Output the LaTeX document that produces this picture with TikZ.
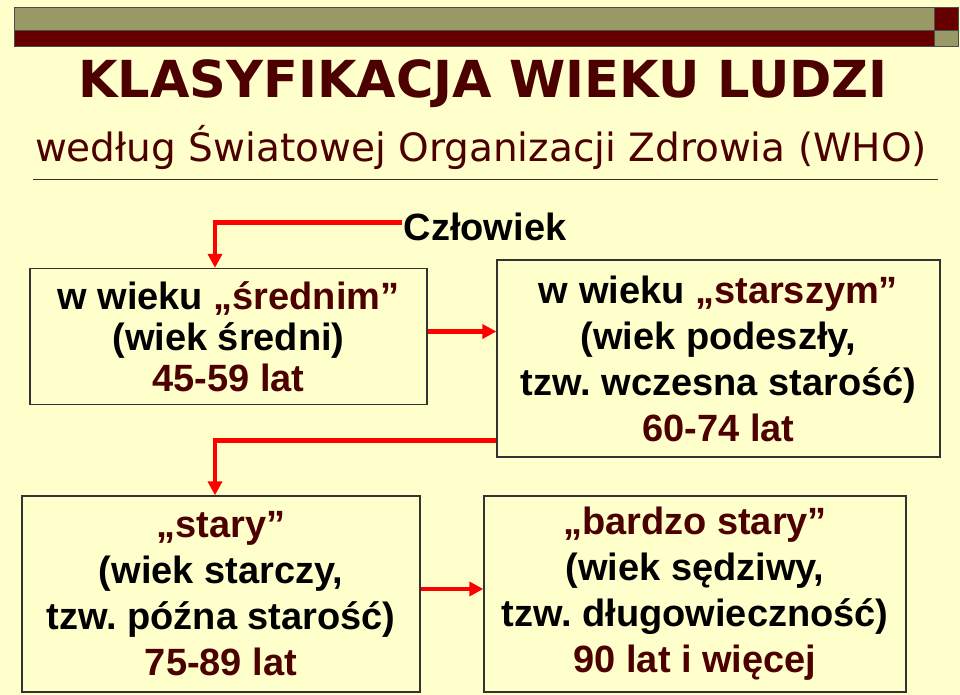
\documentclass[tikz,border=0pt]{standalone}
\usepackage{fontspec}
\setmainfont{Liberation Sans}
\newfontfamily\tahoma{DejaVu Sans}
\usetikzlibrary{arrows.meta}
\frenchspacing

\definecolor{paper}{RGB}{255,255,204}
\definecolor{barolive}{RGB}{153,153,102}
\definecolor{wine}{RGB}{102,0,0}
\definecolor{winetext}{RGB}{77,0,0}

\begin{document}
\begin{tikzpicture}[x=1pt, y=-1pt,
    box/.style={draw=black!80, line width=1.3pt, fill=paper, inner sep=0pt, align=center,
                font=\fontsize{38}{46}\selectfont\bfseries},
    arr/.style={draw=red, line width=4.5pt, -{Triangle[length=14pt, width=14pt]}},
    bar/.style={draw=black!70, line width=0.8pt}]

            % background
            \fill[paper] (0,0) rectangle (960,695);

            % top bar
            \draw[bar, fill=barolive] (14,7)  rectangle (934,30);
            \draw[bar, fill=wine]     (14,30) rectangle (934,46);
            \draw[bar, fill=wine]     (934,7)  rectangle (958,30);
            \draw[bar, fill=barolive] (934,30) rectangle (958,46);

            % titles
            \node[anchor=base, text=winetext, font=\tahoma\fontsize{51}{60}\selectfont\bfseries]
                (title) at (483,98) {KLASYFIKACJA WIEKU LUDZI};
            \node[anchor=base, text=winetext, font=\tahoma\fontsize{39}{46}\selectfont]
                (subtitle) at (481,161) {według Światowej Organizacji Zdrowia (WHO)};
            \draw[black!80, line width=1pt] (33,180) -- (938,180);

            \node[anchor=base, inner sep=2pt, font=\fontsize{38}{46}\selectfont\bfseries]
                (czlowiek) at (485,240) {Człowiek};

            % boxes
            \node[box, minimum width=397pt, minimum height=136pt, font=\fontsize{38}{41}\selectfont\bfseries]
                (sredni) at (228.5,336.5)
                {w wieku \textcolor{winetext}{„średnim”}\\(wiek średni)\\\textcolor{winetext}{45-59 lat}};
            \node[box, minimum width=443pt, minimum height=197pt]
                (starszy) at (718.5,358.5)
                {w wieku \textcolor{winetext}{„starszym”}\\(wiek podeszły,\\tzw. wczesna starość)\\\textcolor{winetext}{60-74 lat}};
            \node[box, minimum width=398pt, minimum height=196pt]
                (stary) at (221,594)
                {\textcolor{winetext}{„stary”}\\(wiek starczy,\\tzw. późna starość)\\\textcolor{winetext}{75-89 lat}};
            \node[box, minimum width=422pt, minimum height=196pt]
                (bardzo) at (695,594)
                {\textcolor{winetext}{„bardzo stary”}\\(wiek sędziwy,\\tzw. długowieczność)\\\textcolor{winetext}{90 lat i więcej}};

            % arrows
            \draw[arr] ([yshift=4pt]czlowiek.west) -| ([xshift=-13.5pt]sredni.north);
            \draw[arr] ([yshift=5pt]sredni.east) -- ([yshift=5pt]sredni.east -| starszy.west);
            \draw[arr] ([yshift=17pt]starszy.south west) -| ([xshift=-6pt]stary.north);
            \draw[arr] ([yshift=5pt]stary.east) -- ([yshift=5pt]stary.east -| bardzo.west);
\end{tikzpicture}
\end{document}
